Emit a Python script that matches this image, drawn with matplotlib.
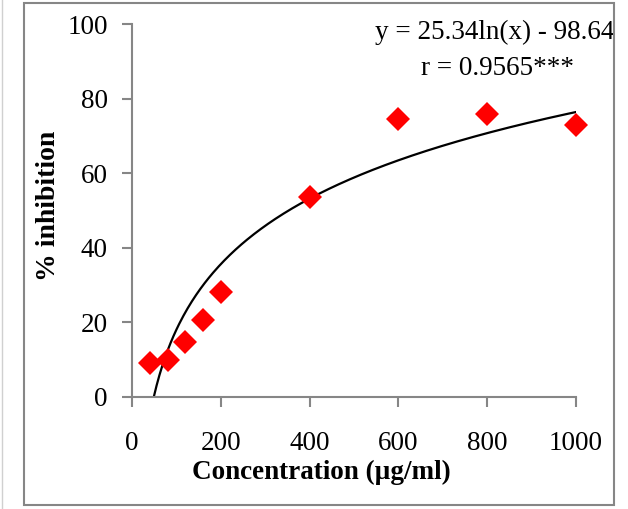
import numpy as np
import matplotlib
matplotlib.use("Agg")
import matplotlib.pyplot as plt
from matplotlib.patches import Rectangle
from matplotlib.lines import Line2D

plt.rcParams['font.family'] = ['Liberation Serif', 'DejaVu Serif']

# measured points
conc = [40, 80, 120, 160, 200, 400, 600, 800, 1000]
inhibition = [9.0, 10.0, 14.8, 20.7, 28.2, 53.5, 74.6, 75.9, 72.8]

# log trendline from the chart: y = a ln(x) + b
fit_a = 25.34
fit_b = -98.64
x_ticks = [0, 200, 400, 600, 800, 1000]
y_ticks = [0, 20, 40, 60, 80, 100]

fig = plt.figure(figsize=(6.28, 5.09), dpi=100)
ax = fig.add_axes([132 / 628, 1 - 397 / 509, 444 / 628, 373 / 509])

# trendline from where it crosses zero up to 1000
x0 = np.exp(-fit_b / fit_a)
xs = np.linspace(x0, 1000, 300)
ax.plot(xs, fit_a * np.log(xs) + fit_b, color='black', lw=1.6, zorder=2)
ax.plot(conc, inhibition, linestyle='none', marker='D', markersize=12,
        color='#ff0000', markeredgewidth=0, zorder=3, clip_on=False)

ax.set_xlim(0, 1000)
ax.set_ylim(0, 100)
ax.set_xticks(x_ticks)
ax.set_yticks(y_ticks)
for side in ['top', 'right']:
    ax.spines[side].set_visible(False)
for side in ['left', 'bottom']:
    ax.spines[side].set_color('#868686')
    ax.spines[side].set_linewidth(1.5)
ax.tick_params(direction='out', length=7, width=1.5, color='#868686',
               labelsize=19.5)
ax.tick_params(axis='x', pad=17.5)
ax.tick_params(axis='y', pad=10.3)

ax.set_xlabel('Concentration (µg/ml)', fontsize=19.5, fontweight='bold')
ax.set_ylabel('% inhibition', fontsize=20, fontweight='bold')
ax.xaxis.set_label_coords(0.426, -0.168)
ax.yaxis.set_label_coords(-0.16, 0.512)

ax.text(1.087, 0.960, 'y = 25.34ln(x) - 98.64', transform=ax.transAxes,
        ha='right', va='baseline', fontsize=19.5)
ax.text(0.995, 0.863, 'r = 0.9565***', transform=ax.transAxes,
        ha='right', va='baseline', fontsize=19.5)

# outer chart border
fig.patches.append(Rectangle((24 / 628, 4 / 509), 590 / 628, 502 / 509,
                             transform=fig.transFigure, fill=False,
                             edgecolor='#868686', lw=1.5))
fig.lines.append(Line2D([2 / 628, 2 / 628], [0, 1], transform=fig.transFigure,
                        color='#d0d0d0', lw=1))

fig.savefig('out.png', dpi=100)
